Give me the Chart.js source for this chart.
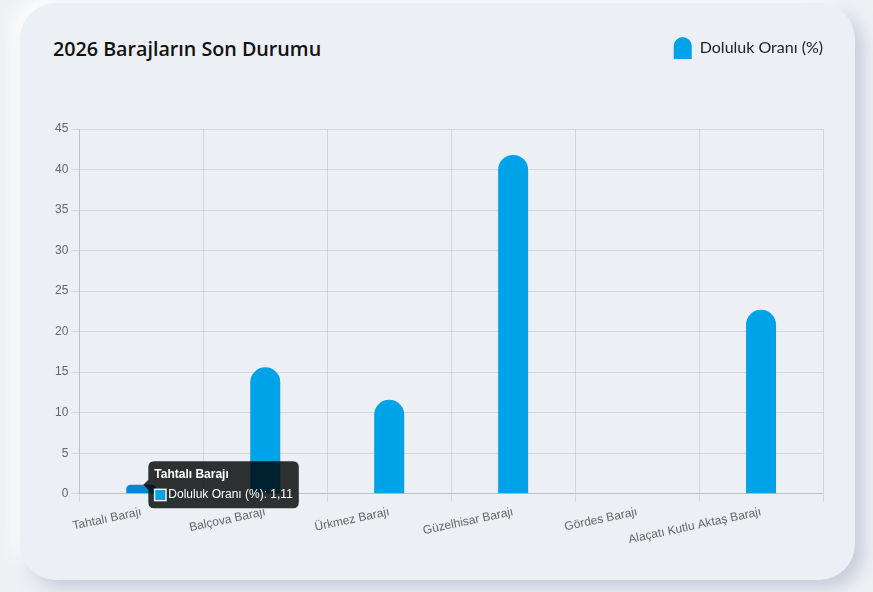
<!DOCTYPE html>
<html lang="tr">
<head>
<meta charset="utf-8">
<title>2026 Barajların Son Durumu</title>
<script src="https://cdn.jsdelivr.net/npm/chart.js@4.4.1/dist/chart.umd.min.js"></script>
<style>
    html, body {
        margin: 0;
        width: 873px;
        height: 592px;
        overflow: hidden;
        background: #eef0f4;
        font-family: Lato, "Open Sans", sans-serif;
    }
    .card {
        position: absolute;
        left: 20px;
        top: 3px;
        width: 835px;
        height: 577px;
        background: #eceff4;
        border-radius: 36px;
        box-shadow: 8px 8px 16px rgba(163, 177, 198, 0.55), -8px -8px 16px rgba(255, 255, 255, 0.9);
    }
    .card h2 {
        position: absolute;
        left: 33px;
        top: 34px;
        margin: 0;
        font-family: "Open Sans", Lato, sans-serif;
        font-size: 19.7px;
        line-height: 24px;
        font-weight: 600;
        color: #111;
    }
    .chart-box {
        position: absolute;
        left: 0;
        top: 0;
        width: 835px;
        height: 577px;
    }
</style>
</head>
<body>
<div class="card">
    <h2>2026 Barajların Son Durumu</h2>
    <div class="chart-box"><canvas id="damChart"></canvas></div>
</div>

<script>
// dam names and fill rates (%)
const damNames = ['Tahtalı Barajı', 'Balçova Barajı', 'Ürkmez Barajı', 'Güzelhisar Barajı', 'Gördes Barajı', 'Alaçatı Kutlu Aktaş Barajı'];
const fillRates = [1.11, 15.6, 11.6, 41.8, 0, 22.7];
const seriesLabel = 'Doluluk Oranı (%)';
const yTicks = { max: 45, step: 5 };

// push the plot down a bit below the legend
const legendSpacing = {
    id: 'legendSpacing',
    beforeInit(chart) {
        const origFit = chart.legend.fit;
        chart.legend.fit = function () {
            origFit.bind(chart.legend)();
            this.height += 60;
        };
    }
};

const ctx = document.getElementById('damChart').getContext('2d');
const chart = new Chart(ctx, {
    type: 'bar',
    data: {
        labels: damNames,
        datasets: [{
            label: seriesLabel,
            data: fillRates,
            backgroundColor: '#00a3e8',
            hoverBackgroundColor: '#0288d1',
            borderColor: 'rgba(255, 255, 255, 0.7)',
            borderWidth: 0,
            borderRadius: { topLeft: 15, topRight: 15 },
            borderSkipped: 'bottom',
            maxBarThickness: 30
        }]
    },
    options: {
        responsive: true,
        maintainAspectRatio: false,
        animation: false,
        events: [],
        layout: { padding: { top: 34, right: 32, bottom: 30, left: 32 } },
        scales: {
            x: {
                ticks: { color: '#666', font: { size: 12 }, minRotation: 12, maxRotation: 12 }
            },
            y: {
                beginAtZero: true,
                max: yTicks.max,
                ticks: { stepSize: yTicks.step, color: '#666', font: { size: 12 } }
            }
        },
        plugins: {
            legend: {
                position: 'top',
                align: 'end',
                labels: {
                    boxWidth: 18,
                    boxHeight: 22,
                    padding: 0,
                    useBorderRadius: true,
                    borderRadius: { topLeft: 9, topRight: 9, bottomLeft: 0, bottomRight: 0 },
                    color: '#222',
                    font: { family: 'Lato', size: 16 }
                }
            },
            tooltip: {
                callbacks: {
                    label: (item) => `${item.dataset.label}: ${String(item.raw).replace('.', ',')}`
                }
            }
        }
    },
    plugins: [legendSpacing]
});

// show the tooltip on the first dam like in the screenshot
const bar = chart.getDatasetMeta(0).data[0];
chart.setActiveElements([{ datasetIndex: 0, index: 0 }]);
chart.tooltip.setActiveElements([{ datasetIndex: 0, index: 0 }], { x: bar.x, y: bar.y });
chart.update();
</script>
</body>
</html>
